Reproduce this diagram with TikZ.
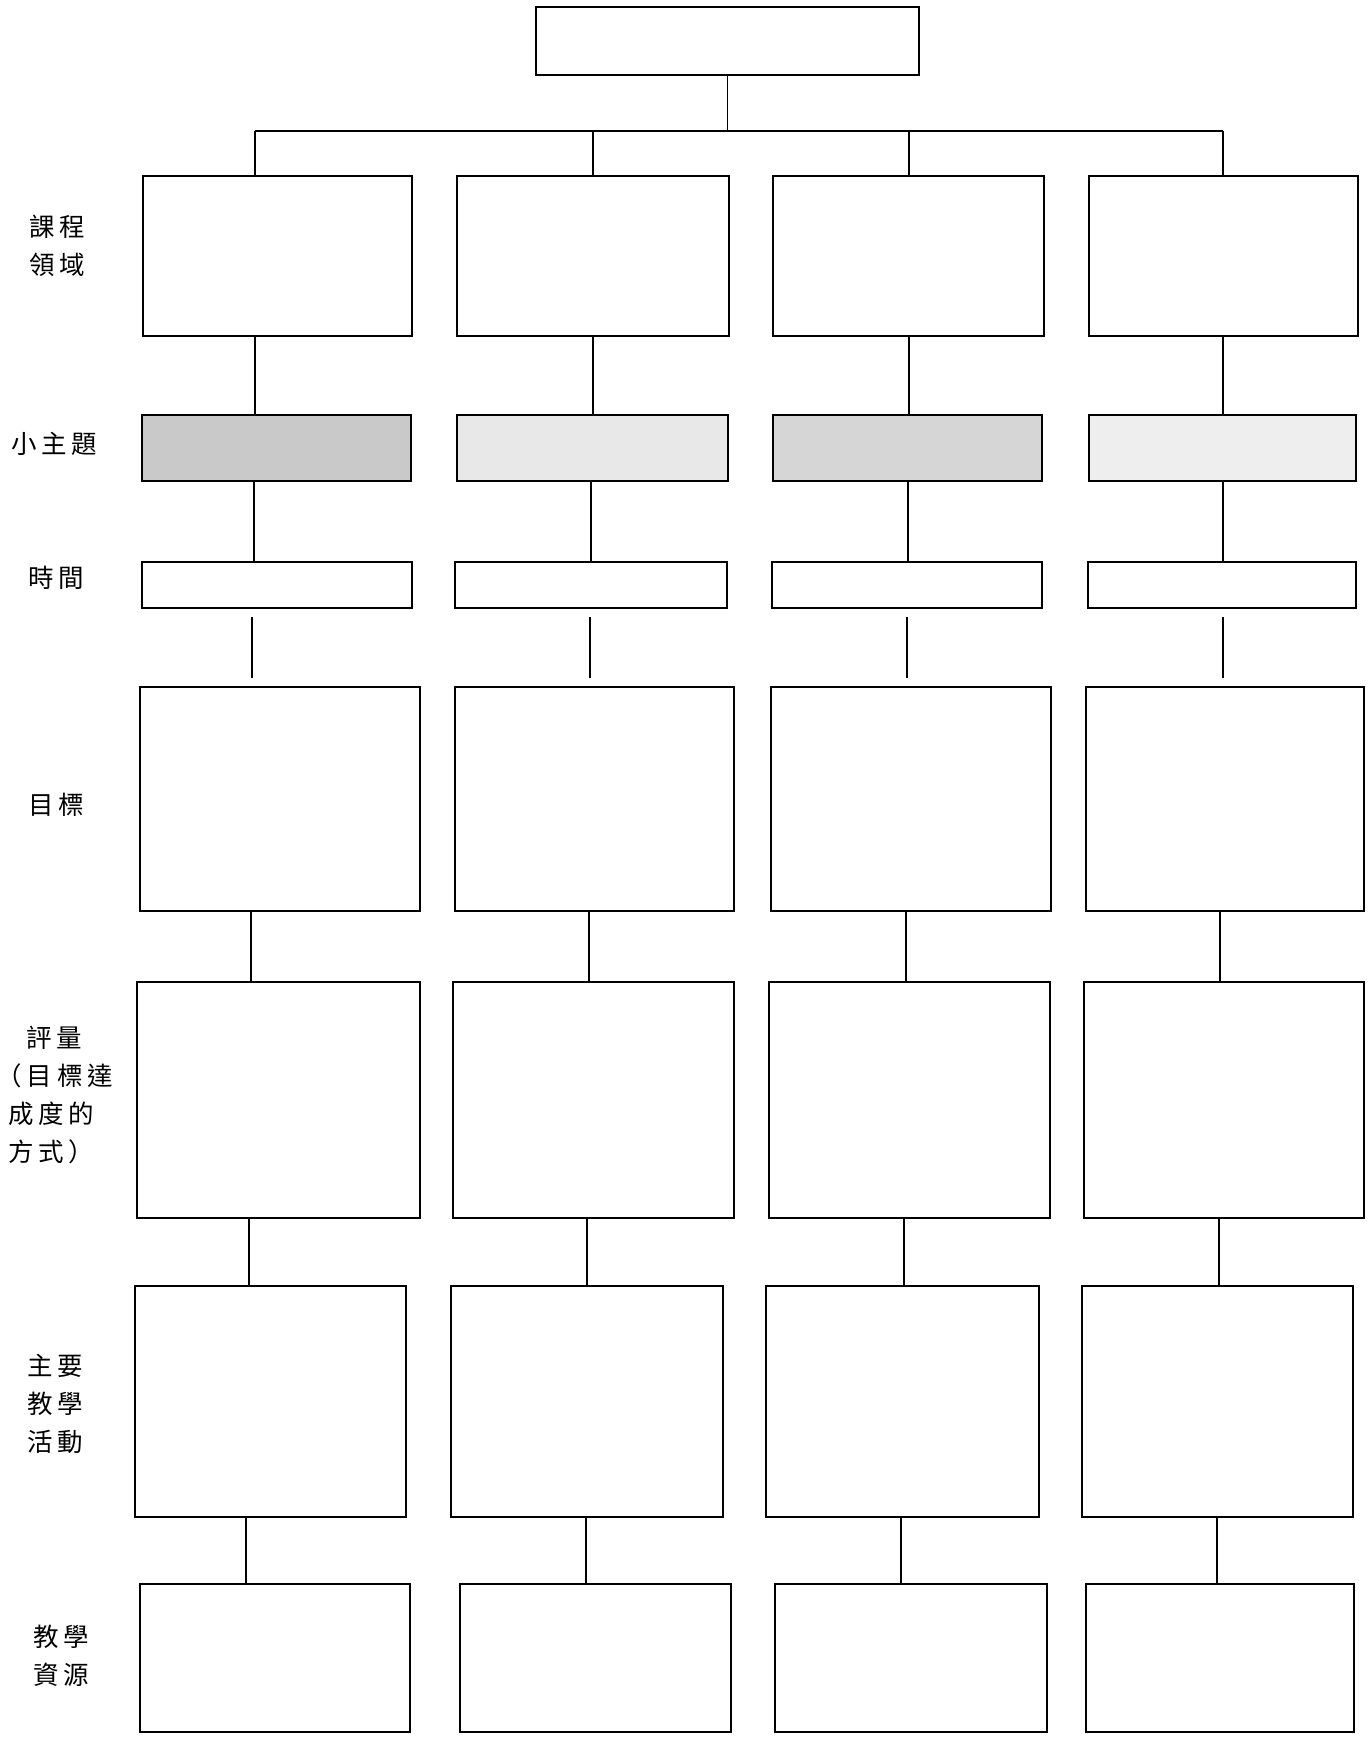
\documentclass[tikz,border=0pt]{standalone}
\usepackage{fontspec}
\newfontfamily\cjk{Noto Sans CJK TC}[LetterSpace=18]
\usepackage{tikz}
\usetikzlibrary{
  fit,
}
\definecolor{shadeA}{HTML}{C9C9C9}
\definecolor{shadeB}{HTML}{E8E8E8}
\definecolor{shadeC}{HTML}{D6D6D6}
\definecolor{shadeD}{HTML}{EEEEEE}

\tikzset{
  cell/.style={draw=black, line width=1.2pt, inner sep=0pt},
  link/.style={draw=black, line width=0.9pt},
  rowlabel/.style={anchor=west, inner sep=0pt, align=left,
                   font=\cjk\fontsize{14.5}{21.6}\selectfont},
}

\begin{document}
\begin{tikzpicture}[x=0.02cm, y=-0.02cm]
\useasboundingbox (0,0) rectangle (1370,1737);

% top box and the bus below it
\node[cell, fit={(536,7) (919,75)}] (top) {};
\coordinate (bus1) at (255,131);
\coordinate (bus2) at (593,131);
\coordinate (bus3) at (909,131);
\coordinate (bus4) at (1223,131);
\draw[link] (top.south) -- (top.south |- bus1);
\draw[link] (bus1) -- (bus4);

% row boxes
\foreach \c/\xa/\xb in {1/143/412, 2/457/729, 3/773/1044, 4/1089/1358}
  \node[cell, fit={(\xa,176) (\xb,336)}] (area\c) {};
\foreach \c/\xa/\xb/\col in {1/142/411/shadeA, 2/457/728/shadeB, 3/773/1042/shadeC, 4/1089/1356/shadeD}
  \node[cell, fill=\col, fit={(\xa,415) (\xb,481)}] (topic\c) {};
\foreach \c/\xa/\xb in {1/142/412, 2/455/727, 3/772/1042, 4/1088/1356}
  \node[cell, fit={(\xa,562) (\xb,608)}] (time\c) {};
\foreach \c/\xa/\xb in {1/140/420, 2/455/734, 3/771/1051, 4/1086/1364}
  \node[cell, fit={(\xa,687) (\xb,911)}] (goal\c) {};
\foreach \c/\xa/\xb in {1/137/420, 2/453/734, 3/769/1050, 4/1084/1364}
  \node[cell, fit={(\xa,982) (\xb,1218)}] (assess\c) {};
\foreach \c/\xa/\xb in {1/135/406, 2/451/723, 3/766/1039, 4/1082/1353}
  \node[cell, fit={(\xa,1286) (\xb,1517)}] (activity\c) {};
\foreach \c/\xa/\xb in {1/140/410, 2/460/731, 3/775/1047, 4/1086/1354}
  \node[cell, fit={(\xa,1584) (\xb,1732)}] (resource\c) {};

% connectors
\foreach \c in {1,...,4}
  \draw[link] (bus\c) -- (bus\c |- area\c.north);
\foreach \c/\x in {1/255, 2/593, 3/909, 4/1223} {
  \coordinate (lx) at (\x,0);
  \draw[link] (area\c.south -| lx) -- (topic\c.north -| lx);
}
\foreach \c/\x in {1/254, 2/591, 3/908, 4/1223} {
  \coordinate (lx) at (\x,0);
  \draw[link] (topic\c.south -| lx) -- (time\c.north -| lx);
}
\foreach \c/\x in {1/252, 2/590, 3/907, 4/1223} {
  \coordinate (lx) at (\x,0);
  \draw[link, shorten <=0.16cm, shorten >=0.16cm]
    (time\c.south -| lx) -- (goal\c.north -| lx);
}
\foreach \c/\x in {1/251, 2/589, 3/906, 4/1220} {
  \coordinate (lx) at (\x,0);
  \draw[link] (goal\c.south -| lx) -- (assess\c.north -| lx);
}
\foreach \c/\x in {1/249, 2/587, 3/904, 4/1219} {
  \coordinate (lx) at (\x,0);
  \draw[link] (assess\c.south -| lx) -- (activity\c.north -| lx);
}
\foreach \c/\x in {1/246, 2/586, 3/901, 4/1217} {
  \coordinate (lx) at (\x,0);
  \draw[link] (activity\c.south -| lx) -- (resource\c.north -| lx);
}

% row labels
\node[rowlabel] (areaLabel) at (29,246) {課程\\領域};
\node[rowlabel] (topicLabel) at (11,444) {小主題};
\node[rowlabel] (timeLabel) at (28,578) {時間};
\node[rowlabel] (goalLabel) at (28,805) {目標};
\node[rowlabel] (assessLabel) at (8,1095)
  {\hspace*{0.36cm}評量\\\hspace*{-0.45em}（目標達\\成度的\\方式）};
\node[rowlabel] (activityLabel) at (27,1404) {主要\\教學\\活動};
\node[rowlabel] (resourceLabel) at (33,1656) {教學\\資源};

\end{tikzpicture}
\end{document}
